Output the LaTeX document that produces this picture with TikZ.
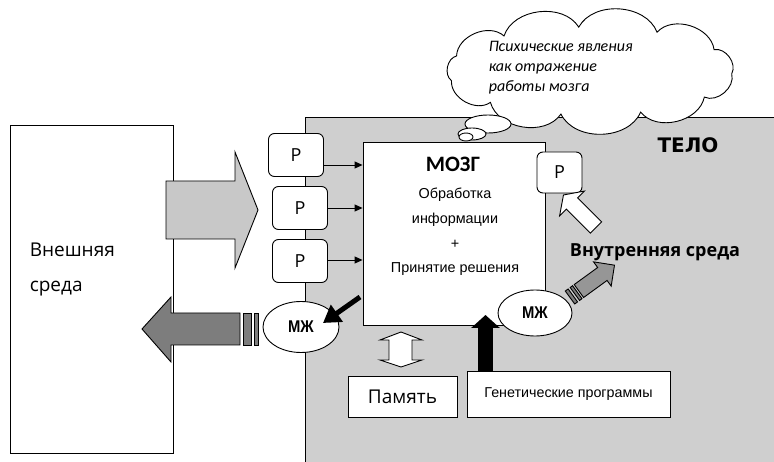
\documentclass[tikz,border=0pt]{standalone}
\usepackage{fontspec}
\setmainfont{Carlito}
\newfontfamily\arialf{Liberation Sans}
\newfontfamily\arialn[FakeStretch=0.87]{Liberation Sans}
\newfontfamily\opensans{Open Sans}
\newfontfamily\heavyf{DejaVu Sans}
\usetikzlibrary{arrows.meta,shapes.geometric,positioning,calc}
\definecolor{bodygray}{RGB}{207,207,207}
\definecolor{lightarrow}{RGB}{200,200,200}
\definecolor{midarrow}{RGB}{150,150,150}
\definecolor{darkarrow}{RGB}{125,125,125}
\tikzset{
  pbox/.style={draw,fill=white,rounded corners=6pt,minimum width=55pt,minimum height=43pt,
    inner sep=0pt,font=\opensans\fontsize{18}{18}\selectfont},
  mjell/.style={ellipse,draw,fill=white,inner sep=0pt,font=\arialn\bfseries\fontsize{17}{17}\selectfont},
  whitebox/.style={draw,fill=white,inner sep=0pt},
  thinarrow/.style={-{Triangle[length=8pt,width=7pt]}},
}
\begin{document}
\begin{tikzpicture}[x=1pt,y=-1pt,line width=.9pt]
  \useasboundingbox (0,0) rectangle (774,462);
  % body
  \fill[bodygray] (305,117) rectangle (774,462);
  \draw (305,462) -- (305,117) -- (774,117);
  \node[font=\heavyf\bfseries\fontsize{20}{20}\selectfont] (telo) at (688,145) {ТЕЛО};
  % outer world
  \node[whitebox,minimum width=163pt,minimum height=328pt] (env) at (91.5,289) {};
  \node[anchor=west,align=left,font=\opensans\fontsize{19}{35}\selectfont] (envtext) at (26,270) {Внешняя\\среда};
  \draw[fill=lightarrow] (166,181) -- (235,181) -- (235,152) -- (258,210) -- (235,268)
    -- (235,239) -- (166,239) -- cycle;
  \draw[fill=darkarrow] (142,329) -- (171,297) -- (171,313) -- (240,313) -- (240,345)
    -- (171,345) -- (171,362) -- cycle;
  \draw[fill=darkarrow] (243,313) rectangle (251,345);
  \draw[fill=darkarrow] (254,313) rectangle (258,345);
  % brain
  \node[whitebox,minimum width=182pt,minimum height=183pt] (brain) at (454,233.5) {};
  \node[font=\bfseries\fontsize{22}{22}\selectfont] (mozg) at (453,164) {МОЗГ};
  \node[align=center,font=\arialf\fontsize{14.4}{24.7}\selectfont] (braintext) at (455,232)
    {Обработка\\информации\\+\\Принятие решения};
  % receptors
  \foreach \i/\x/\y/\d in {1/296/155/-10,2/300/208/0,3/300/261/1}{
    \node[pbox] (p\i) at (\x,\y) {Р};
    \coordinate (a\i) at ([yshift=\d pt]p\i.east);
    \draw[thinarrow] (a\i) -- (a\i -| brain.west);
  }
  \node[pbox,minimum width=45pt,minimum height=41pt] (p4) at (559.5,172.5) {Р};
  \begin{scope}[shift={(596,227.5)},rotate=135]
    \draw[fill=white] (0,-8) -- (34,-8) -- (34,-17.5) -- (46,0) -- (34,17.5) -- (34,8) -- (0,8) -- cycle;
  \end{scope}
  % effectors
  \node[mjell,minimum width=76pt,minimum height=51pt] (mjl) at (301,327) {МЖ};
  \node[mjell,minimum width=74pt,minimum height=46pt] (mjr) at (535,313) {МЖ};
  \begin{scope}[shift={(570,297.5)},rotate=36]
    \draw[fill=midarrow] (11,-8) -- (40,-8) -- (40,-15) -- (55,0) -- (40,15) -- (40,8) -- (11,8) -- cycle;
    \draw[fill=darkarrow] (0,-8) rectangle (3.5,8);
    \draw[fill=darkarrow] (6,-8) rectangle (9,8);
  \end{scope}
  \coordinate (bout) at (360,297);
  \draw[line width=5pt,-{Triangle[length=17pt,width=20pt]}] (bout) -- ([shift={(22,-4)}]mjl.center);
  % memory and genetic programs
  \node[whitebox,minimum width=109pt,minimum height=41pt,font=\opensans\fontsize{19}{19}\selectfont] (mem) at (402.5,396.5) {Память};
  \node[whitebox,minimum width=203pt,minimum height=46pt,font=\arialf\fontsize{14.3}{14.3}\selectfont] (gen) at (568.5,394) {Генетические программы};
  \draw[fill=white] (401,332) -- (422,340) -- (412,340) -- (412,360) -- (422,360) -- (401,367)
    -- (380,360) -- (389,360) -- (389,340) -- (380,340) -- cycle;
  \coordinate (gup) at (485.5,315);
  \draw[line width=15pt,-{Triangle[length=13pt,width=28pt]}] (gup |- gen.north) -- (gup);
  % thought cloud
  \foreach \k in {0,...,11}
    \coordinate (c\k) at ($(590,71)+({142*cos(\k*360/11+200)},{44*sin(\k*360/11+200)})$);
  \draw[fill=white] (c0) \foreach \k in {1,...,11}{ to[bend left=65] (c\k) };
  \draw[fill=white] (488,124) ellipse [x radius=23,y radius=9];
  \draw[fill=white] (472,134) ellipse [x radius=14,y radius=6];
  \draw[fill=white] (466,137) ellipse [x radius=7,y radius=4];
  \node[anchor=west,align=left,font=\itshape\fontsize{16}{20}\selectfont] (thoughttext) at (485,68)
    {Психические явления\\как отражение\\работы мозга};
  \node[font=\opensans\bfseries\fontsize{18}{18}\selectfont] (inner) at (655,252) {Внутренняя среда};
\end{tikzpicture}
\end{document}
